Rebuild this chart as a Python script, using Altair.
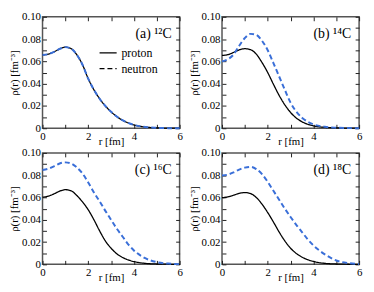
import altair as alt
import pandas as pd

# radial grid (fm)
r = [0, 0.25, 0.5, 0.75, 1, 1.25, 1.5, 1.75, 2, 2.25, 2.5, 2.75, 3, 3.25, 3.5, 3.75, 4, 4.5, 5, 5.5, 6]

# densities (fm^-3)
a_proton = [0.0658, 0.0665, 0.0685, 0.0712, 0.0728, 0.0715, 0.0660, 0.0570, 0.0445, 0.0345, 0.0265, 0.0200,
            0.0148, 0.0105, 0.0072, 0.0048, 0.0030, 0.0011, 0.0004, 0.0001, 0.0]
a_neutron = [0.0658, 0.0665, 0.0685, 0.0712, 0.0728, 0.0715, 0.0660, 0.0570, 0.0445, 0.0345, 0.0265, 0.0200,
             0.0148, 0.0105, 0.0072, 0.0048, 0.0030, 0.0011, 0.0004, 0.0001, 0.0]
b_proton = [0.0653, 0.0660, 0.0680, 0.0703, 0.0714, 0.0705, 0.0665, 0.0590, 0.0500, 0.0395, 0.0295, 0.0210,
            0.0142, 0.0092, 0.0058, 0.0036, 0.0022, 0.0008, 0.0003, 0.0001, 0.0]
b_neutron = [0.0600, 0.0618, 0.0660, 0.0740, 0.0810, 0.0847, 0.0838, 0.0785, 0.0700, 0.0585, 0.0465, 0.0345,
             0.0230, 0.0150, 0.0095, 0.0058, 0.0035, 0.0013, 0.0005, 0.0002, 0.0]
c_proton = [0.0603, 0.0612, 0.0632, 0.0657, 0.0670, 0.0660, 0.0618, 0.0560, 0.0490, 0.0400, 0.0300, 0.0210,
            0.0145, 0.0095, 0.0062, 0.0040, 0.0025, 0.0009, 0.0003, 0.0001, 0.0]
c_neutron = [0.0847, 0.0858, 0.0880, 0.0905, 0.0915, 0.0905, 0.0870, 0.0815, 0.0735, 0.0645, 0.0565, 0.0480,
             0.0400, 0.0320, 0.0250, 0.0180, 0.0125, 0.0055, 0.0020, 0.0007, 0.0002]
d_proton = [0.0598, 0.0605, 0.0620, 0.0637, 0.0644, 0.0635, 0.0600, 0.0540, 0.0465, 0.0380, 0.0290, 0.0210,
            0.0145, 0.0098, 0.0065, 0.0042, 0.0026, 0.0009, 0.0003, 0.0001, 0.0]
d_neutron = [0.0797, 0.0805, 0.0825, 0.0850, 0.0868, 0.0875, 0.0855, 0.0810, 0.0740, 0.0660, 0.0580, 0.0500,
             0.0425, 0.0355, 0.0290, 0.0225, 0.0170, 0.0090, 0.0035, 0.0012, 0.0004]

panel_labels = ["(a) ¹²C", "(b) ¹⁴C", "(c) ¹⁶C", "(d) ¹⁸C"]
series = ["proton", "neutron"]
x_ticks = [0, 1, 2, 3, 4, 5, 6]
y_ticks = [0, 0.01, 0.02, 0.03, 0.04, 0.05, 0.06, 0.07, 0.08, 0.09, 0.10]

W, H = 139, 113
BLUE = "#3a6fd8"
SERIF = "Liberation Serif"

X_LABELS = "datum.value % 2 == 0 ? datum.label : ''"
Y_LABELS = "round(datum.value * 100) % 2 == 0 ? (datum.value == 0 ? '0' : format(datum.value, '.2f')) : ''"


def panel(prot, neut, label, show_legend):
    df = pd.DataFrame({
        "r": r + r,
        "rho": prot + neut,
        "series": ["proton"] * len(r) + ["neutron"] * len(r),
    })
    x = alt.X("r:Q", scale=alt.Scale(domain=[0, 6], nice=False),
              axis=alt.Axis(values=x_ticks, labelExpr=X_LABELS, title="r [fm]", titlePadding=-6))
    y = alt.Y("rho:Q", scale=alt.Scale(domain=[0, 0.1], nice=False),
              axis=alt.Axis(values=y_ticks, labelExpr=Y_LABELS, title="ρ(r) [fm⁻³]", titlePadding=2))
    if show_legend:
        leg = alt.Legend(orient="none", legendX=57, legendY=27, title=None, symbolType="stroke",
                         symbolStrokeColor="black", symbolStrokeWidth=1.3, symbolSize=300,
                         labelFont=SERIF, labelFontSize=12, labelOffset=4, rowPadding=0)
    else:
        leg = None
    lines = alt.Chart(df).mark_line(interpolate="monotone").encode(
        x=x, y=y,
        color=alt.Color("series:N", scale=alt.Scale(domain=series, range=["black", BLUE]), legend=None),
        strokeDash=alt.StrokeDash("series:N", scale=alt.Scale(domain=series, range=[[1, 0], [5, 3]]),
                                  legend=leg),
        strokeWidth=alt.StrokeWidth("series:N", scale=alt.Scale(domain=series, range=[1.3, 2.0]),
                                    legend=None),
    )
    mirror = alt.Chart(df).mark_point(opacity=0).encode(
        x=alt.X("r:Q", axis=alt.Axis(orient="top", values=x_ticks, labels=False, title=None)),
        y=alt.Y("rho:Q", axis=alt.Axis(orient="right", values=y_ticks, labels=False, title=None)),
    )
    text = alt.Chart(pd.DataFrame({"label": [label]})).mark_text(
        align="right", baseline="middle", font=SERIF, fontSize=14, color="black"
    ).encode(x=alt.value(W - 8), y=alt.value(17), text="label:N")
    return alt.layer(lines, mirror, text).resolve_axis(x="independent", y="independent").properties(
        width=W, height=H)


pa = panel(a_proton, a_neutron, panel_labels[0], True)
pb = panel(b_proton, b_neutron, panel_labels[1], False)
pc = panel(c_proton, c_neutron, panel_labels[2], False)
pd_ = panel(d_proton, d_neutron, panel_labels[3], False)

chart = alt.concat(pa, pb, pc, pd_, columns=2, spacing={"row": 25, "column": 43}, bounds="flush").resolve_legend(
    strokeDash="independent"
).properties(
    padding={"left": 0, "top": 0, "right": 2, "bottom": 0}
).configure_view(
    stroke="#555555", strokeWidth=1.5
).configure_axis(
    domain=False, grid=False, tickColor="#222222", tickSize=4, offset=-4, labelFlush=False,
    labelFont=SERIF, labelFontSize=11, labelColor="black", labelPadding=2,
    titleFont=SERIF, titleFontSize=11, titleFontWeight="normal", titleColor="black",
)

chart.save("out.html", embed_options={"renderer": "svg", "actions": False})
